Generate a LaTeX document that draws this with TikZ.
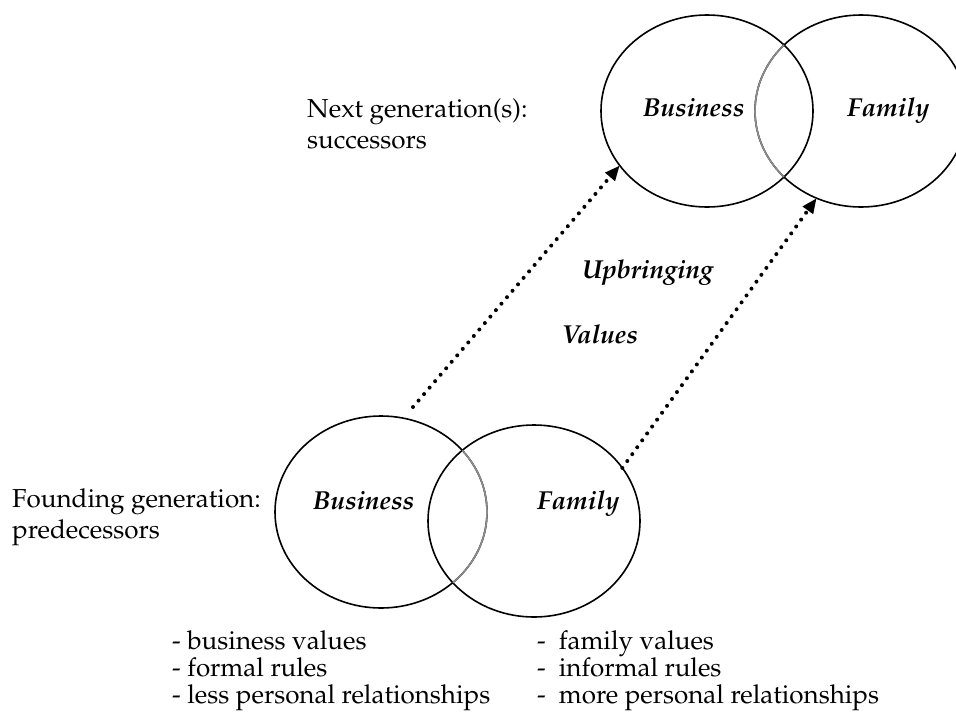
\documentclass[tikz,border=0pt]{standalone}
\usepackage[T1]{fontenc}
\usepackage{mathpazo}
\usetikzlibrary{shapes.geometric,arrows.meta}

\begin{document}
\begin{tikzpicture}[x=1pt,y=-1pt,
  set/.style={ellipse,draw,line width=1.6pt,minimum width=212pt,minimum height=192pt,inner sep=0pt,outer sep=0pt},
  lbl/.style={font=\fontsize{26}{30}\selectfont\bfseries\itshape,anchor=base west,inner sep=0pt},
  txt/.style={font=\fontsize{26}{30}\selectfont,anchor=base west,inner sep=0pt},
  flow/.style={line width=4pt,line cap=round,dash pattern=on 0pt off 8.5pt,-{Triangle[length=15pt,width=12pt]}}]
  \useasboundingbox (0,0) rectangle (956,718);

  \node (bt) at (707,111) [set]{};
  \node (ft) at (861,111) [set]{};

  \node (bb) at (381,512) [set]{};
  \node (fb) at (534,521) [set]{};

  \begin{scope}
    \clip (bt.center) ellipse [x radius=106pt,y radius=96pt];
    \draw[black!45,line width=1.6pt] (ft.center) ellipse [x radius=106pt,y radius=96pt];
  \end{scope}
  \begin{scope}
    \clip (fb.center) ellipse [x radius=106pt,y radius=96pt];
    \draw[black!45,line width=1.6pt] (bb.center) ellipse [x radius=106pt,y radius=96pt];
  \end{scope}

  \node (bus1) at (643,116) [lbl]{Business};
  \node (fam1) at (847,116) [lbl]{Family};
  \node (bus0) at (313,509) [lbl]{Business};
  \node (fam0) at (537,509) [lbl]{Family};

  \node (next) at (307,117) [txt]{Next generation(s):};
  \node (succ) at (307,148) [txt]{successors};
  \node (found) at (12,507) [txt]{Founding generation:};
  \node (pred) at (12,538) [txt]{predecessors};

  \node (upb) at (582,278) [lbl]{Upbringing};
  \node (val) at (562,343) [lbl]{Values};

  \coordinate (u1) at (413,407);
  \draw[flow] (u1) -- (bt.212);
  \draw[flow] (fb.31) -- (ft.243);

  \node (bv) at (172,649) [txt]{- business values};
  \node (fr) at (172,676) [txt]{- formal rules};
  \node (lp) at (172,703) [txt]{- less personal relationships};
  \node (fv) at (537,649) [txt]{-\ \ family values};
  \node (ir) at (537,676) [txt]{-\ \ informal rules};
  \node (mp) at (537,703) [txt]{-\ \ more personal relationships};

\end{tikzpicture}
\end{document}
